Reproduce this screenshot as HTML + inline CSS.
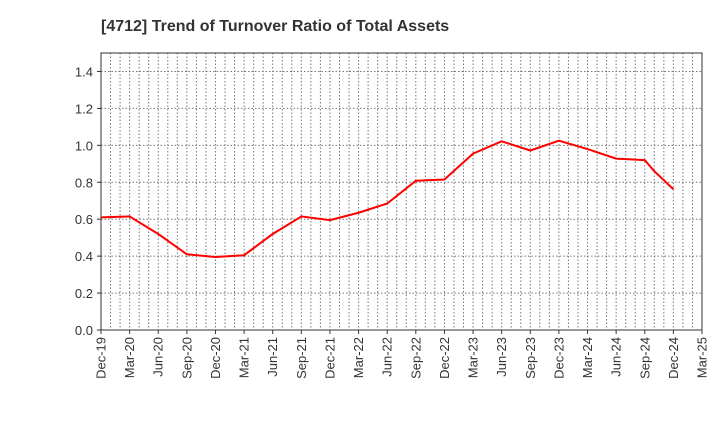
<!DOCTYPE html>
<html><head><meta charset="utf-8"><style>
body{margin:0;background:#fff;font-family:"Liberation Sans",Arial,sans-serif}
</style></head><body>
<svg id="c" width="720" height="440" xmlns="http://www.w3.org/2000/svg"></svg>
<script>
const monthIdx=[0,3,6,9,12,15,18,21,24,27,30,33,36,39,42,45,48,51,54,57,58,60];
const values=[0.61,0.615,0.52,0.41,0.395,0.405,0.52,0.615,0.595,0.635,0.685,0.808,0.815,0.955,1.022,0.972,1.025,0.98,0.928,0.92,0.86,0.762];
const tickLabels=["Dec-19","Mar-20","Jun-20","Sep-20","Dec-20","Mar-21","Jun-21","Sep-21","Dec-21","Mar-22","Jun-22","Sep-22","Dec-22","Mar-23","Jun-23","Sep-23","Dec-23","Mar-24","Jun-24","Sep-24","Dec-24","Mar-25"];
const yTicks=[0,0.2,0.4,0.6,0.8,1.0,1.2,1.4];
const L=101,R=702,T=53,B=330,yMax=1.5,nMonths=63;
const x=m=>L+(R-L)*m/nMonths, y=v=>B-(B-T)*v/yMax;
const s=document.getElementById('c'),NS="http://www.w3.org/2000/svg";
function add(tag,a,txt){const e=document.createElementNS(NS,tag);for(const k in a)e.setAttribute(k,a[k]);if(txt!==undefined)e.textContent=txt;s.appendChild(e);return e;}
let t=add('text',{x:101,y:31,'font-size':16,'font-weight':'bold',fill:'#333'},'[4712]  Trend of Turnover Ratio of Total Assets');


for(let m=1;m<nMonths;m++){let g=add('line',{x1:x(m),x2:x(m),y1:T,y2:B,stroke:'#777','stroke-dasharray':'1.5,2','stroke-width':1});

}
yTicks.forEach(v=>{let g=add('line',{x1:L,x2:R,y1:y(v),y2:y(v),stroke:'#777','stroke-dasharray':'1.5,2','stroke-width':1});


let tl=add('text',{x:L-8,y:y(v)+5,'font-size':13,fill:'#333','text-anchor':'end'},v.toFixed(1));


add('line',{x1:L-4,x2:L,y1:y(v),y2:y(v),stroke:'#333'});});
let fr=add('rect',{x:L,y:T,width:R-L,height:B-T,fill:'none',stroke:'#333','stroke-width':1});


tickLabels.forEach((lab,i)=>{const xx=x(i*3);add('line',{x1:xx,x2:xx,y1:B,y2:B+4,stroke:'#333'});
let tl=add('text',{x:0,y:0,'font-size':13,fill:'#333','text-anchor':'end',transform:`translate(${xx+4.5},${B+7}) rotate(-90)`},lab);

});
let p=add('polyline',{points:monthIdx.map((m,i)=>x(m)+','+y(values[i])).join(' '),fill:'none',stroke:'#f00','stroke-width':2,'stroke-linejoin':'round'});


</script>
</body></html>
